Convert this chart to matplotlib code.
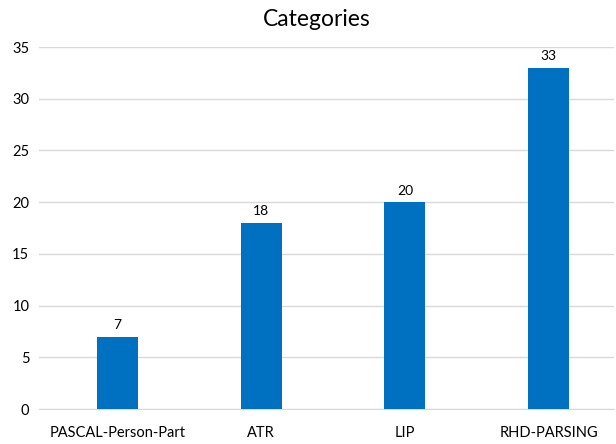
import matplotlib
matplotlib.use('Agg')
import matplotlib.pyplot as plt
import numpy as np

categories = ['PASCAL-Person-Part', 'ATR', 'LIP', 'RHD-PARSING']
values = [7, 18, 20, 33]
yticks = [0, 5, 10, 15, 20, 25, 30, 35]

plt.rcParams['font.family'] = ['Lato', 'DejaVu Sans']

fig = plt.figure(figsize=[6.16, 4.44], dpi=100)
ax = fig.add_axes([39 / 616, 35 / 444, 575 / 616, 362 / 444])

x = np.arange(len(categories))
bars = ax.bar(x, values, width=0.285, color='#0070C0', zorder=3)
for xi, v in zip(x, values):
    ax.annotate(str(v), xy=(xi, v), xytext=(0, 4), textcoords='offset points',
                ha='center', va='bottom', fontsize=10, color='#000000')

ax.set_xlim(-0.546, 3.455)
ax.set_ylim(0, 35)
ax.set_yticks(yticks)
ax.set_xticks(x)
ax.set_xticklabels(categories)
ax.yaxis.grid(True, color='#D9D9D9', linewidth=1, zorder=0)
for s in ['top', 'right', 'left']:
    ax.spines[s].set_visible(False)
ax.spines['bottom'].set_color('#D9D9D9')
ax.tick_params(axis='both', length=0, labelsize=10.5, colors='#000000')
ax.tick_params(axis='x', pad=12)
ax.tick_params(axis='y', pad=7)

# title sits over the whole chart, not just the plot area
fig.text(317 / 616, 1 - 19 / 444, 'Categories', fontsize=16.5,
         ha='center', va='center')

fig.savefig('out.png', dpi=100)
